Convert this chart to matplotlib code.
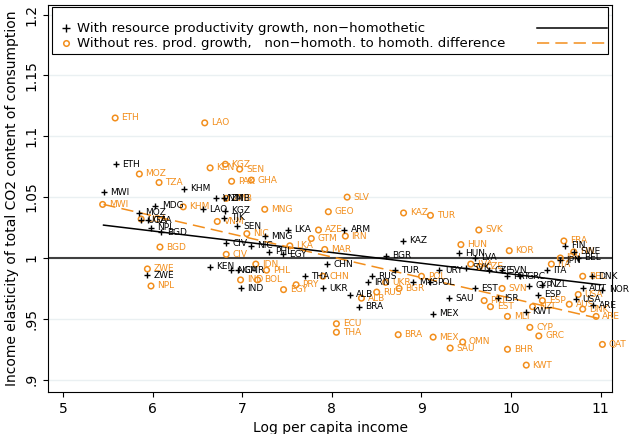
import matplotlib
matplotlib.use("Agg")
import matplotlib.pyplot as plt
from matplotlib.patches import Rectangle

ORANGE = "#f28e1c"

# with resource productivity growth (black +)
blk_codes = ["ETH", "MWI", "KHM", "MDG", "MOZ", "UGA", "TZA", "NPL", "BGD", "VNM", "ZMB", "LAO", "KGZ",
             "TJK", "SEN", "LKA", "MNG", "CIV", "NIC", "KEN", "NGA", "CMR", "ZWE", "IND", "PHL", "EGY",
             "ARM", "KAZ", "BGR", "HUN", "LVA", "SAU", "MEX", "ISR", "KWT", "CYP", "NOR", "ARE", "USA",
             "CHN", "THA", "UKR", "RUS", "POL", "BRA", "ALB", "EST", "SVN", "GRC", "NZL", "FIN", "SWE",
             "BEL", "DNK", "ITA", "JPN", "AUT", "ESP", "TUR", "IRN", "CZE", "SVK", "PRT", "MYS", "URY"]
blk_x = [5.59, 5.45, 6.35, 6.03, 5.85, 5.87, 5.95, 5.98, 6.09, 6.71, 6.80, 6.56, 6.81,
         6.80, 6.94, 7.51, 7.25, 6.82, 7.10, 6.64, 6.87, 6.95, 5.94, 6.98, 7.30, 7.45,
         8.14, 8.79, 8.60, 9.42, 9.60, 9.31, 9.13, 9.85, 10.17, 10.20, 11.02, 10.91, 10.72,
         7.95, 7.70, 7.90, 8.45, 9.10, 8.30, 8.20, 9.60, 9.90, 10.10, 10.35, 10.60, 10.70,
         10.75, 10.90, 10.40, 10.55, 10.80, 10.30, 8.70, 8.40, 9.75, 9.50, 9.95, 8.90, 9.20]
blk_y = [1.077, 1.054, 1.057, 1.043, 1.037, 1.031, 1.031, 1.025, 1.021, 1.049, 1.049, 1.040, 1.039,
         1.033, 1.026, 1.023, 1.018, 1.012, 1.010, 0.993, 0.990, 0.990, 0.986, 0.975, 1.005, 1.003,
         1.023, 1.014, 1.002, 1.004, 1.000, 0.967, 0.954, 0.967, 0.956, 0.977, 0.974, 0.961, 0.966,
         0.995, 0.985, 0.975, 0.985, 0.980, 0.960, 0.970, 0.975, 0.990, 0.985, 0.978, 1.010, 1.005,
         1.000, 0.985, 0.990, 0.998, 0.975, 0.970, 0.990, 0.980, 0.990, 0.992, 0.985, 0.980, 0.990]

# without res. prod. growth (orange o)
org_codes = ["ETH", "LAO", "KGZ", "KEN", "SEN", "PAK", "GHA", "MOZ", "TZA", "MWI", "KHM", "ZMB", "MNG",
             "VNM", "UGA", "BGD", "CIV", "ZWE", "NPL", "IND", "BOL", "PHL", "EGY", "PRY", "SLV", "GEO",
             "KAZ", "TUR", "AZE", "GTM", "MAR", "IRN", "SVK", "HUN", "KOR", "CZE", "FRA", "BRA", "MEX",
             "OMN", "SAU", "BHR", "KWT", "CYP", "GRC", "ECU", "THA", "MLT", "EST", "ALB", "NZL", "DNK",
             "QAT", "ARE", "LKA", "NIC", "IDN", "UKR", "RUS", "POL", "BGR", "ITA", "JPN", "ESP", "AUS",
             "FIN", "BEL", "USA", "CHN", "SVN", "PRT", "LVA"]
org_x = [5.58, 6.58, 6.81, 6.64, 6.97, 6.88, 7.10, 5.85, 6.07, 5.44, 6.34, 6.82, 7.25,
         6.72, 5.87, 6.08, 6.82, 5.94, 5.98, 6.98, 7.17, 7.27, 7.46, 7.60, 8.17, 7.96,
         8.80, 9.10, 7.85, 7.77, 7.92, 8.15, 9.64, 9.44, 9.98, 9.65, 10.59, 8.74, 9.13,
         9.46, 9.32, 9.96, 10.17, 10.21, 10.31, 8.05, 8.05, 9.96, 9.77, 8.33, 10.24, 10.80,
         11.02, 10.95, 7.53, 7.05, 7.15, 8.60, 8.50, 9.00, 8.75, 10.45, 10.55, 10.35, 10.65,
         10.70, 10.80, 10.75, 7.90, 9.90, 9.70, 9.55]
org_y = [1.115, 1.111, 1.077, 1.074, 1.073, 1.063, 1.064, 1.069, 1.062, 1.044, 1.042, 1.049, 1.040,
         1.030, 1.032, 1.009, 1.003, 0.991, 0.977, 0.982, 0.982, 0.990, 0.974, 0.978, 1.050, 1.038,
         1.037, 1.035, 1.023, 1.016, 1.007, 1.018, 1.023, 1.011, 1.006, 0.993, 1.014, 0.937, 0.935,
         0.931, 0.926, 0.925, 0.912, 0.943, 0.936, 0.946, 0.939, 0.952, 0.960, 0.967, 0.960, 0.958,
         0.929, 0.952, 1.010, 1.020, 0.995, 0.980, 0.972, 0.985, 0.975, 0.995, 1.000, 0.965, 0.962,
         1.005, 0.985, 0.970, 0.985, 0.975, 0.965, 0.995]

# fitted lines (endpoints)
fit_x = [5.45, 11.0]
fit_blk = [1.027, 0.978]
fit_org = [1.044, 0.950]

fig = plt.figure(figsize=(6.34, 4.34), dpi=100)
ax = fig.add_axes([0.0757, 0.097, 0.89, 0.892])
ax.set_xlim(4.83, 11.13)
ax.set_ylim(0.89, 1.208)
ax.set_yticks([0.9, 0.95, 1, 1.05, 1.1, 1.15, 1.2])
ax.set_yticklabels([".9", ".95", "1", "1.05", "1.1", "1.15", "1.2"], rotation=90, va="center")
ax.set_xticks([5, 6, 7, 8, 9, 10, 11])
ax.grid(axis="y", color="#eaf0f2", lw=1)
ax.set_axisbelow(True)
ax.tick_params(labelsize=10)

ax.axhline(1, color="#404040", lw=1.5, zorder=1)
ax.plot(fit_x, fit_blk, color="black", lw=1.1, zorder=2)
ax.plot(fit_x, fit_org, color=ORANGE, lw=1.1, ls=(0, (8, 4)), zorder=2)

ax.scatter(org_x, org_y, s=16, facecolors="none", edgecolors=ORANGE, lw=1.1, zorder=3)
for c, x, y in zip(org_codes, org_x, org_y):
    ax.text(x + 0.07, y, c, color=ORANGE, fontsize=6.5, va="center", zorder=3)
ax.scatter(blk_x, blk_y, s=22, marker="+", color="black", lw=1, zorder=4)
for c, x, y in zip(blk_codes, blk_x, blk_y):
    ax.text(x + 0.07, y, c, color="black", fontsize=6.5, va="center", zorder=4)

ax.set_xlabel("Log per capita income", fontsize=10)
ax.set_ylabel("Income elasticity of total CO2 content of consumption", fontsize=10)

# legend drawn by hand: marker + text on the left, line sample on the right
T = ax.transAxes
ax.add_patch(Rectangle((0.007, 0.872), 0.986, 0.122, transform=T, facecolor="white",
                       edgecolor="black", lw=0.8, zorder=10))
r1, r2 = 0.94, 0.90
ax.plot([0.032], [r1], transform=T, marker="+", color="black", ms=6, mew=1, zorder=11)
ax.plot([0.032], [r2], transform=T, marker="o", color=ORANGE, ms=4, mfc="none", mew=1.1, zorder=11)
ax.text(0.052, r1, "With resource productivity growth, non\u2212homothetic", transform=T,
        fontsize=9.5, va="center", zorder=11)
ax.text(0.052, r2, "Without res. prod. growth,   non\u2212homoth. to homoth. difference", transform=T,
        fontsize=9.5, va="center", zorder=11)
ax.plot([0.867, 0.99], [r1, r1], transform=T, color="black", lw=1.1, zorder=11)
ax.plot([0.867, 0.99], [r2, r2], transform=T, color=ORANGE, lw=1.1, ls=(0, (8, 4)), zorder=11)

fig.savefig("out.png", dpi=100)
